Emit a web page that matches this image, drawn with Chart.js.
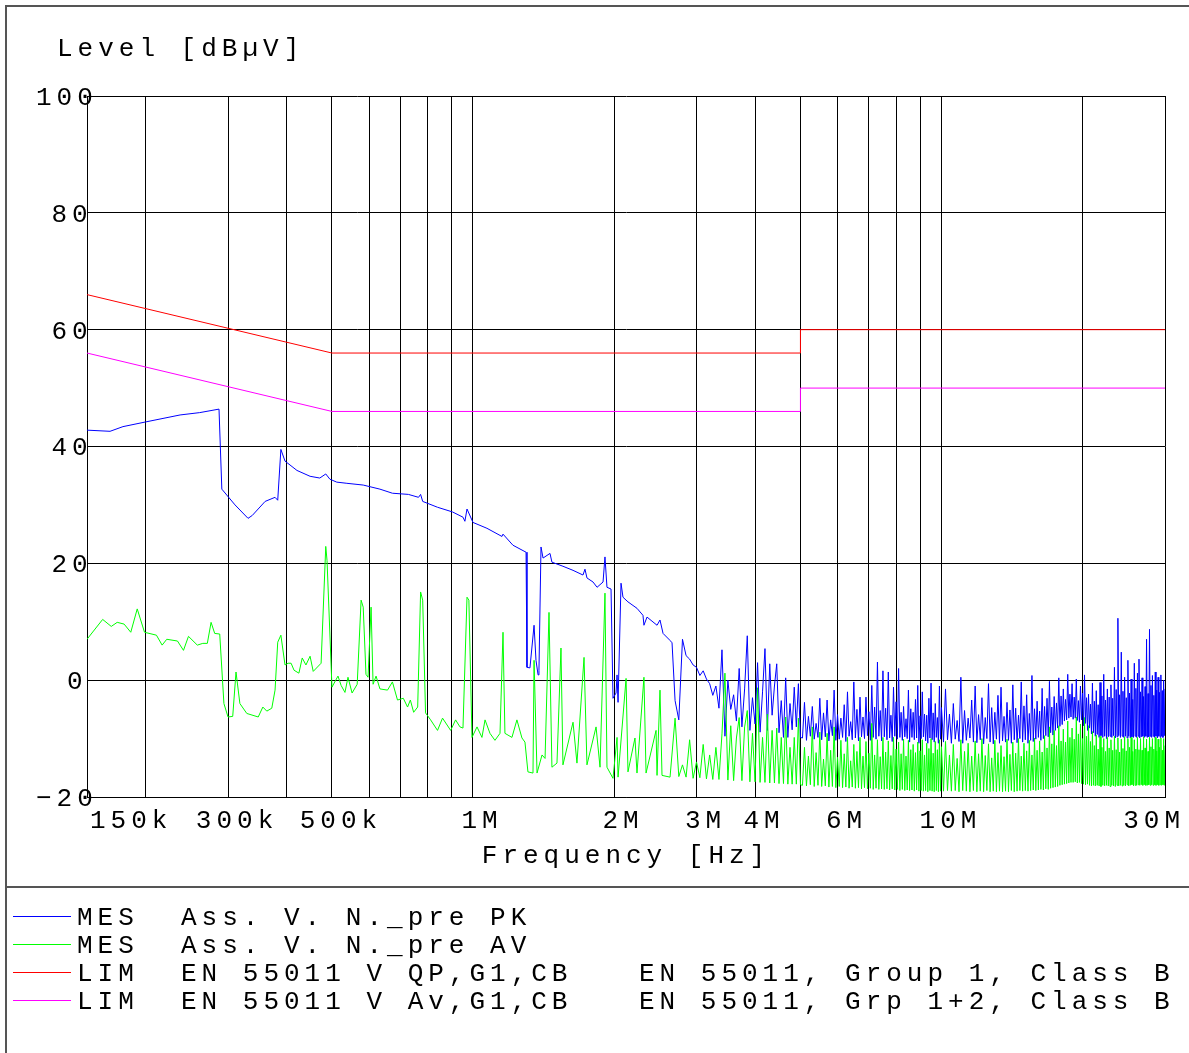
<!DOCTYPE html>
<html>
<head>
<meta charset="utf-8">
<script src="https://cdn.jsdelivr.net/npm/chart.js@4.4.1/dist/chart.umd.min.js"></script>
<style>
  html, body { margin: 0; padding: 0; background: #fff; }
  #wrap { width: 1189px; height: 1053px; }
</style>
</head>
<body>
<div id="wrap"><canvas id="chart" width="1189" height="1053"></canvas></div>
<script>
// frequencies in MHz, levels in dBµV

// peak scan, 150 kHz .. 2.66 MHz
const pkFreq = [
  0.150, 0.168, 0.179, 0.200, 0.237, 0.261, 0.287, 0.291, 0.3105, 0.331,
  0.338, 0.360, 0.378, 0.383, 0.389, 0.397, 0.421, 0.449, 0.471, 0.485,
  0.495, 0.512, 0.538, 0.583, 0.633, 0.673, 0.728, 0.765, 0.773, 0.781,
  0.840, 0.904, 0.952, 0.961, 0.971, 1.000, 1.071, 1.153, 1.159, 1.217,
  1.298, 1.304, 1.323, 1.350, 1.363, 1.377, 1.383, 1.397, 1.411, 1.460,
  1.474, 1.556, 1.635, 1.717, 1.734, 1.751, 1.804, 1.840, 1.895, 1.913,
  1.932, 1.971, 1.990, 2.020, 2.030, 2.040, 2.070, 2.090, 2.142, 2.239,
  2.306, 2.317, 2.352, 2.471, 2.507, 2.545, 2.634, 2.660
];
const pkLevel = [
  42.8, 42.6, 43.4, 44.2, 45.4, 45.8, 46.4, 32.7, 30.0, 27.7,
  28.2, 30.6, 31.3, 30.8, 39.5, 37.5, 35.9, 34.9, 34.6, 35.3,
  34.4, 33.9, 33.7, 33.4, 32.7, 32.0, 31.8, 31.3, 31.8, 30.6,
  29.6, 28.8, 27.9, 27.2, 29.3, 27.0, 26.0, 24.6, 25.0, 23.1,
  21.9, 2.2, 2.1, 9.4, 3.4, 0.9, 1.7, 22.8, 20.9, 21.7,
  20.2, 19.5, 18.8, 18.0, 19.0, 17.5, 16.8, 15.9, 16.8, 21.1,
  15.9, 15.6, -3.1, -2.2, 0.9, -3.8, 16.6, 14.2, 13.4, 12.3,
  11.1, 9.4, 10.8, 9.4, 10.3, 8.0, 6.8, 6.4
];

// average scan, 150 kHz .. 2.64 MHz
const avFreq = [
  0.150, 0.162, 0.169, 0.174, 0.180, 0.186, 0.192, 0.199, 0.211, 0.217,
  0.222, 0.234, 0.241, 0.247, 0.258, 0.265, 0.271, 0.276, 0.281, 0.288,
  0.294, 0.300, 0.307, 0.312, 0.318, 0.329, 0.348, 0.356, 0.363, 0.372,
  0.378, 0.383, 0.389, 0.397, 0.403, 0.409, 0.415, 0.425, 0.432, 0.440,
  0.449, 0.456, 0.474, 0.485, 0.488, 0.500, 0.515, 0.523, 0.533, 0.541,
  0.552, 0.566, 0.577, 0.583, 0.591, 0.597, 0.606, 0.612, 0.621, 0.633,
  0.657, 0.673, 0.690, 0.710, 0.725, 0.735, 0.747, 0.762, 0.773, 0.781,
  0.792, 0.812, 0.840, 0.861, 0.896, 0.918, 0.938, 0.952, 0.971, 0.980,
  0.995, 1.020, 1.045, 1.061, 1.087, 1.114, 1.142, 1.159, 1.170, 1.211,
  1.241, 1.272, 1.291, 1.310, 1.343, 1.350, 1.370, 1.404, 1.425, 1.453,
  1.474, 1.511, 1.541, 1.556, 1.635, 1.667, 1.726, 1.751, 1.831, 1.867,
  1.913, 1.932, 1.990, 2.030, 2.040, 2.122, 2.142, 2.217, 2.239, 2.317,
  2.341, 2.459, 2.471, 2.507, 2.532, 2.634
];
const avLevel = [
  7.0, 10.4, 9.2, 9.9, 9.6, 8.2, 12.2, 8.2, 7.7, 6.0,
  7.0, 6.7, 5.1, 7.5, 6.0, 6.3, 6.3, 9.9, 8.0, 7.9,
  -4.0, -6.3, -6.2, 1.4, -4.0, -5.7, -6.3, -4.6, -5.3, -4.8,
  -1.7, 6.5, 7.7, 2.6, 2.9, 2.9, 1.7, 1.2, 3.8, 2.6,
  4.1, 1.5, 2.9, 22.9, 20.5, -1.2, 0.7, -0.9, -2.1, 0.5,
  -2.2, -0.7, 13.7, 12.5, 1.0, 0.5, 12.5, -0.7, 0.7, -1.5,
  -1.7, -0.3, -3.4, -3.1, -4.6, -3.4, -5.5, -4.6, 15.1, 13.7,
  -5.6, -6.8, -8.6, -6.5, -8.6, -6.8, -8.0, -8.2, 14.2, 13.7,
  -9.8, -8.0, -9.8, -6.8, -9.1, -10.3, -9.1, 8.2, -9.1, -9.8,
  -6.8, -9.9, -10.6, -15.7, -15.9, 3.4, -15.9, -12.8, -13.4, 11.6,
  -14.9, -14.2, 5.5, -14.5, -7.2, -14.2, 3.9, -14.5, -8.0, -14.9,
  14.9, -14.9, -16.8, -9.8, -16.6, 0.3, -15.7, -9.9, -15.9, 0.5,
  -15.9, -8.6, -16.3, -1.7, -16.3, -16.6
];

// upper band sweep, 2.7 .. 30 MHz, shared by both detectors
const hfFreq = [
  2.70, 2.75, 2.80, 2.85, 2.90, 2.95, 3.00, 3.05, 3.10, 3.15,
  3.20, 3.25, 3.30, 3.35, 3.40, 3.45, 3.50, 3.55, 3.60, 3.65,
  3.70, 3.75, 3.80, 3.85, 3.90, 3.95, 4.00, 4.05, 4.10, 4.15,
  4.20, 4.25, 4.30, 4.35, 4.40, 4.45, 4.50, 4.55, 4.60, 4.65,
  4.70, 4.75, 4.80, 4.85, 4.90, 4.95, 5.00,
  5.05, 5.10, 5.15, 5.20, 5.25, 5.30, 5.35, 5.40, 5.45, 5.50,
  5.55, 5.60, 5.65, 5.70, 5.75, 5.80, 5.85, 5.90, 5.95, 6.00,
  6.05, 6.10, 6.15, 6.20, 6.25, 6.30, 6.35, 6.40, 6.45, 6.50,
  6.55, 6.60, 6.65, 6.70, 6.75, 6.80, 6.85, 6.90, 6.95, 7.00,
  7.05, 7.10, 7.15, 7.20, 7.25, 7.30, 7.35, 7.40, 7.45, 7.50,
  7.55, 7.60, 7.65, 7.70, 7.75, 7.80, 7.85, 7.90, 7.95, 8.00,
  8.05, 8.10, 8.15, 8.20, 8.25, 8.30, 8.35, 8.40, 8.45, 8.50,
  8.55, 8.60, 8.65, 8.70, 8.75, 8.80, 8.85, 8.90, 8.95, 9.00,
  9.05, 9.10, 9.15, 9.20, 9.25, 9.30, 9.35, 9.40, 9.45, 9.50,
  9.55, 9.60, 9.65, 9.70, 9.75, 9.80, 9.85, 9.90, 9.95, 10.00,
  10.1, 10.2, 10.3, 10.4, 10.5, 10.6, 10.7, 10.8, 10.9, 11.0,
  11.1, 11.2, 11.3, 11.4, 11.5, 11.6, 11.7, 11.8, 11.9, 12.0,
  12.1, 12.2, 12.3, 12.4, 12.5, 12.6, 12.7, 12.8, 12.9, 13.0,
  13.1, 13.2, 13.3, 13.4, 13.5, 13.6, 13.7, 13.8, 13.9, 14.0,
  14.1, 14.2, 14.3, 14.4, 14.5, 14.6, 14.7, 14.8, 14.9, 15.0,
  15.1, 15.2, 15.3, 15.4, 15.5, 15.6, 15.7, 15.8, 15.9, 16.0,
  16.1, 16.2, 16.3, 16.4, 16.5, 16.6, 16.7, 16.8, 16.9, 17.0,
  17.1, 17.2, 17.3, 17.4, 17.5, 17.6, 17.7, 17.8, 17.9, 18.0,
  18.1, 18.2, 18.3, 18.4, 18.5, 18.6, 18.7, 18.8, 18.9, 19.0,
  19.1, 19.2, 19.3, 19.4, 19.5, 19.6, 19.7, 19.8, 19.9, 20.0,
  20.1, 20.2, 20.3, 20.4, 20.5, 20.6, 20.7, 20.8, 20.9, 21.0,
  21.1, 21.2, 21.3, 21.4, 21.5, 21.6, 21.7, 21.8, 21.9, 22.0,
  22.1, 22.2, 22.3, 22.4, 22.5, 22.6, 22.7, 22.8, 22.9, 23.0,
  23.1, 23.2, 23.3, 23.4, 23.5, 23.6, 23.7, 23.8, 23.9, 24.0,
  24.1, 24.2, 24.3, 24.4, 24.5, 24.6, 24.7, 24.8, 24.9, 25.0,
  25.1, 25.2, 25.3, 25.4, 25.5, 25.6, 25.7, 25.8, 25.9, 26.0,
  26.1, 26.2, 26.3, 26.4, 26.5, 26.6, 26.7, 26.8, 26.9, 27.0,
  27.1, 27.2, 27.3, 27.4, 27.5, 27.6, 27.7, 27.8, 27.9, 28.0,
  28.1, 28.2, 28.3, 28.4, 28.5, 28.6, 28.7, 28.8, 28.9, 29.0,
  29.1, 29.2, 29.3, 29.4, 29.5, 29.6, 29.7, 29.8, 29.9, 30.0
];
const hfPk = [
  -3.5, -6.8, 7.0, 4.2, 3.6, 2.6, 2.2, 0.8, 1.6, 0.2,
  -0.6, -2.6, -1.0, -4.8, 5.2, -9.6, 0.0, -5.0, -2.5, -7.0,
  2.0, -8.0, -1.5, 7.6, -8.6, -3.0, -7.5, 3.0, -8.9, -2.0,
  5.4, -8.6, 2.8, -6.0, -1.0, 2.8, -9.0, -3.5, -9.8, 0.4,
  -9.8, -4.0, -8.5, -1.2, -8.0, -0.6, -9.8,
  -9.9, -3.8, -10.3, -6.2, -9.6, -4.5, -10.1, -7.4, -9.8, -3.1,
  -10.2, -5.6, -9.7, -3.4, -10.4, -6.8, -9.5, -1.7, -10.3, -5.9,
  -10.1, -6.5, -9.8, -4.2, -10.5, -2.0, -9.6, -7.1, -10.2, -0.3,
  -9.9, -5.0, -10.4, -2.9, -9.7, -6.3, -10.0, -2.9, -9.5, -5.4,
  -10.3, -0.9, -9.8, -4.6, -10.1, 3.1, -9.6, -5.2, -10.4, 1.6,
  -9.7, -4.8, -10.2, 1.4, -9.9, -6.0, -10.5, -1.2, -9.6, -3.7,
  -10.1, 2.0, -9.8, -5.5, -10.3, -4.5, -9.7, -6.6, -10.0, -1.7,
  -10.6, -4.9, -9.8, -5.5, -10.2, -3.3, -9.9, -0.9, -10.8, -6.1,
  -10.0, -2.0, -9.7, -5.8, -10.4, -6.0, -10.8, -3.1, -9.9, -0.5,
  -10.2, -5.6, -10.6, -4.0, -9.8, -6.4, -10.8, -1.0, -10.1, -4.7,
  -10.6, -1.5, -10.2, -5.8, -10.8, -4.0, -10.1, -6.9, -10.5, 0.5,
  -10.8, -5.2, -10.3, -6.5, -9.9, -3.4, -10.6, -1.0, -10.7, -5.9,
  -10.2, -3.0, -10.9, -6.4, -10.0, -0.6, -10.6, -4.7, -10.9, -5.5,
  -10.1, -2.6, -10.8, -1.2, -10.4, -6.2, -10.6, -3.8, -10.3, -5.1,
  -10.8, -0.8, -10.2, -4.8, -10.7, -6.0, -10.0, -0.3, -10.6, -4.4,
  -10.2, -2.5, -10.8, -5.7, -10.3, 0.8, -10.5, -4.9, -10.1, -3.6,
  -9.8, -5.3, -10.3, -1.4, -10.0, -4.5, -9.5, -3.1, -9.7, -0.2,
  -9.0, -4.6, -9.4, -2.8, -8.6, -3.9, -8.2, 0.4, -7.9, -2.7,
  -7.6, -1.5, -7.0, -3.3, -6.8, 1.0, -6.5, -2.4, -6.3, -0.6,
  -6.7, -2.9, -6.5, 0.2, -6.9, -3.5, -7.2, -1.0, -6.8, -2.2,
  -7.8, 0.9, -7.4, -3.0, -8.6, -2.4, -8.2, -4.1, -9.2, -0.5,
  -9.0, -3.6, -9.6, -1.8, -9.3, -4.2, -9.8, -0.4, -9.5, -2.7,
  -9.8, 1.0, -9.6, -3.4, -10.0, -1.5, -9.7, -2.9, -9.6, -0.8,
  -9.8, -3.1, -9.5, 2.2, -9.9, -1.6, -9.7, 10.6, -9.5, -2.5,
  -9.8, 4.8, -9.6, -1.9, -9.8, 0.5, -9.6, -3.0, -9.9, 3.4,
  -9.6, -2.2, -9.9, 0.2, -9.7, -3.3, -9.8, 2.9, -9.6, -1.4,
  -9.8, 1.2, -9.6, 3.6, -9.9, -2.0, -9.7, 0.4, -9.6, -2.8,
  -9.8, -1.1, -9.6, 7.0, -9.8, -2.3, -9.7, 8.7, -9.6, -0.9,
  -9.8, 0.8, -9.6, -2.6, -9.8, 1.4, -9.6, -1.7, -9.9, 0.5,
  -9.6, -2.1, -9.8, 0.9, -9.6, -1.8, -9.8, 0.0, -9.5, -1.5
];
const hfAv = [
  -6.5, -16.5, -14.5, -16.6, -10.2, -16.8, -14.0, -16.7, -11.0, -16.9,
  -12.8, -17.0, -11.5, -17.0, -9.2, 1.2, -17.1, -7.8, -17.2, -9.9,
  -6.4, -17.2, -8.0, -5.2, -17.4, -9.1, -17.4, -1.3, -17.5, -9.8,
  -17.5, -5.8, -17.6, -8.6, -17.6, -8.2, -17.7, -9.8, -17.7, -6.3,
  -17.8, -11.5, -17.8, -9.8, -17.8, -6.5, -17.9,
  -18.0, -11.5, -18.1, -13.0, -17.9, -8.0, -18.2, -12.4, -18.0, -8.9,
  -18.2, -13.5, -18.1, -9.1, -18.3, -12.0, -18.2, -8.0, -18.4, -13.2,
  -18.2, -10.3, -18.4, -12.6, -18.3, -9.8, -18.5, -13.8, -18.3, -11.0,
  -18.5, -12.2, -18.4, -9.8, -18.6, -13.0, -18.4, -10.5, -18.6, -12.5,
  -18.5, -7.4, -18.7, -12.8, -18.5, -10.2, -18.7, -13.1, -18.6, -9.8,
  -18.7, -12.3, -18.6, -10.4, -18.8, -12.9, -18.6, -9.8, -18.8, -11.8,
  -18.7, -10.6, -18.9, -12.6, -18.7, -10.1, -18.9, -13.0, -18.8, -10.3,
  -18.9, -11.9, -18.8, -11.0, -19.0, -12.4, -18.8, -10.6, -19.0, -12.1,
  -18.9, -10.2, -19.0, -12.8, -18.9, -10.8, -19.1, -11.7, -18.9, -10.0,
  -19.0, -12.5, -19.1, -10.5, -18.9, -11.9, -19.1, -10.2, -19.0, -11.4,
  -19.0, -10.5, -18.9, -12.8, -19.0, -11.0, -18.9, -13.4, -19.1, -10.2,
  -18.9, -12.2, -19.0, -10.8, -19.1, -13.0, -18.9, -10.4, -19.1, -12.6,
  -19.0, -10.0, -19.1, -12.9, -18.9, -10.9, -19.1, -13.3, -19.0, -10.3,
  -19.1, -12.4, -19.0, -11.2, -19.1, -13.1, -19.0, -10.1, -19.1, -12.7,
  -18.9, -10.6, -19.1, -12.5, -19.0, -10.0, -18.9, -13.0, -19.0, -10.8,
  -18.9, -12.1, -19.0, -10.3, -18.9, -12.8, -18.8, -9.9, -18.9, -12.0,
  -18.8, -10.4, -18.7, -12.3, -18.8, -9.5, -18.6, -11.6, -18.7, -8.0,
  -18.5, -10.9, -18.4, -8.6, -18.3, -11.2, -18.2, -7.8, -18.0, -10.4,
  -17.9, -8.4, -17.8, -10.6, -17.7, -7.0, -17.6, -9.8, -17.5, -8.2,
  -17.5, -10.1, -17.4, -6.3, -17.6, -9.2, -17.5, -7.5, -17.7, -10.0,
  -17.8, -6.4, -17.9, -9.6, -17.8, -7.8, -18.0, -10.5, -18.1, -8.8,
  -18.0, -11.2, -18.1, -9.4, -18.0, -11.8, -18.1, -9.6, -18.2, -11.5,
  -18.0, -10.0, -18.1, -12.2, -18.0, -9.8, -18.1, -11.6, -18.2, -10.2,
  -18.0, -12.0, -18.1, -9.6, -18.2, -11.9, -18.0, -9.9, -18.1, -12.3,
  -18.0, -10.1, -18.1, -11.7, -18.0, -9.7, -18.1, -12.1, -17.9, -10.0,
  -18.1, -11.5, -18.0, -9.8, -17.9, -12.2, -18.1, -10.2, -18.0, -11.8,
  -18.0, -9.8, -17.9, -11.9, -18.0, -10.0, -17.9, -12.0, -18.0, -9.7,
  -17.9, -11.6, -18.0, -10.1, -18.0, -12.2, -17.9, -9.8, -18.0, -11.4,
  -17.9, -10.0, -18.0, -11.8, -17.9, -9.8, -18.0, -12.1, -17.9, -10.1,
  -18.0, -11.5, -17.9, -9.9, -18.0, -12.0, -17.9, -10.0, -18.0, -11.2
];

// limit lines
const qpLimFreq = [0.15, 0.5, 5, 5, 30];
const qpLimLevel = [66, 56, 56, 60, 60];
const avLimFreq = [0.15, 0.5, 5, 5, 30];
const avLimLevel = [56, 46, 46, 50, 50];

// axes
const gridFreqs = [0.15, 0.2, 0.3, 0.4, 0.5, 0.6, 0.7, 0.8, 0.9, 1, 2, 3, 4, 5, 6, 7, 8, 9, 10, 20, 30];
const tickFreqs = [0.15, 0.3, 0.5, 1, 2, 3, 4, 6, 10, 30];
const tickLabels = ['150k', '300k', '500k', '1M', '2M', '3M', '4M', '6M', '10M', '30M'];
const yTitle = 'Level [dB\u00b5V]';
const xTitle = 'Frequency [Hz]';

// legend
const legendKind = ['MES', 'MES', 'LIM', 'LIM'];
const legendName = ['Ass. V. N._pre PK', 'Ass. V. N._pre AV', 'EN 55011 V QP,G1,CB', 'EN 55011 V Av,G1,CB'];
const legendNote = ['', '', 'EN 55011, Group 1, Class B', 'EN 55011, Grp 1+2, Class B'];
const seriesColors = ['#0000ff', '#00ff00', '#ff0000', '#ff00ff'];

const FONT_FAMILY = '"Liberation Mono", "DejaVu Sans Mono", monospace';
const FONT_SIZE = 26;
const FONT = FONT_SIZE + 'px ' + FONT_FAMILY;
const SPACING = 5;

function toPoints(freqs, levels) {
  return freqs.map((f, i) => ({ x: f, y: levels[i] }));
}

function levelLabel(v) {
  return v < 0 ? '\u2212' + Math.abs(v) : String(v);
}

const decor = {
  id: 'decor',
  beforeDraw(chart) {
    const ctx = chart.ctx;
    ctx.save();
    ctx.strokeStyle = '#555';
    ctx.lineWidth = 2;
    ctx.beginPath();
    ctx.moveTo(6, 1053); ctx.lineTo(6, 6); ctx.lineTo(1189, 6);
    ctx.moveTo(6, 887); ctx.lineTo(1189, 887);
    ctx.stroke();
    ctx.restore();
  },
  afterDraw(chart) {
    const ctx = chart.ctx;
    const xs = chart.scales.x;
    const ys = chart.scales.y;
    ctx.save();
    ctx.letterSpacing = SPACING + 'px';
    ctx.font = FONT;
    ctx.fillStyle = '#000';
    ctx.textBaseline = 'middle';

    ctx.textAlign = 'left';
    ctx.fillText(yTitle, 57, 49);

    // y tick labels
    ys.ticks.forEach((t) => {
      const s = levelLabel(t.value);
      ctx.fillText(s, 36 + (3 - s.length) * 15.5, ys.getPixelForValue(t.value) + 2);
    });

    // x tick labels
    tickFreqs.forEach((f, i) => {
      const px = xs.getPixelForValue(f);
      if (i === 0) {
        ctx.textAlign = 'left';
        ctx.fillText(tickLabels[i], px + 3, 821);
      } else if (i === tickFreqs.length - 1) {
        ctx.textAlign = 'right';
        ctx.fillText(tickLabels[i], px + 15 + SPACING, 821);
      } else {
        ctx.textAlign = 'center';
        ctx.fillText(tickLabels[i], px + 9, 821);
      }
    });

    ctx.textAlign = 'center';
    ctx.fillText(xTitle, (chart.chartArea.left + chart.chartArea.right) / 2, 856);

    // legend
    ctx.textAlign = 'left';
    legendKind.forEach((k, i) => {
      const y = 916 + i * 28;
      ctx.strokeStyle = seriesColors[i];
      ctx.lineWidth = 1;
      ctx.beginPath();
      ctx.moveTo(13, y + 0.5);
      ctx.lineTo(71, y + 0.5);
      ctx.stroke();
      ctx.fillText(k, 77, y + 2);
      ctx.fillText(legendName[i], 181, y + 2);
      if (legendNote[i]) ctx.fillText(legendNote[i], 639, y + 2);
    });
    ctx.restore();
  }
};

const line = (data, color, order) => ({
  data, borderColor: color, borderWidth: 1, pointRadius: 0, tension: 0, order, fill: false
});

new Chart(document.getElementById('chart'), {
  type: 'line',
  data: {
    datasets: [
      line(toPoints(pkFreq.concat(hfFreq), pkLevel.concat(hfPk)), seriesColors[0], 4),
      line(toPoints(avFreq.concat(hfFreq), avLevel.concat(hfAv)), seriesColors[1], 3),
      line(toPoints(qpLimFreq, qpLimLevel), seriesColors[2], 2),
      line(toPoints(avLimFreq, avLimLevel), seriesColors[3], 1)
    ]
  },
  options: {
    responsive: false,
    animation: false,
    devicePixelRatio: 1,
    layout: { padding: { top: 96, right: 24, bottom: 0, left: 0 } },
    plugins: { legend: { display: false }, tooltip: { enabled: false } },
    scales: {
      x: {
        type: 'logarithmic',
        min: 0.15,
        max: 30,
        afterBuildTicks: (s) => { s.ticks = gridFreqs.map(v => ({ value: v })); },
        afterFit: (s) => { s.height = 256; },
        ticks: { display: false },
        grid: { color: '#000', lineWidth: 1, drawTicks: false },
        border: { display: true, color: '#000' }
      },
      y: {
        min: -20,
        max: 100,
        afterFit: (s) => { s.width = 87; },
        ticks: { stepSize: 20, display: false },
        grid: { color: '#000', lineWidth: 1, drawTicks: false },
        border: { display: true, color: '#000' }
      }
    }
  },
  plugins: [decor]
});
</script>
</body>
</html>
